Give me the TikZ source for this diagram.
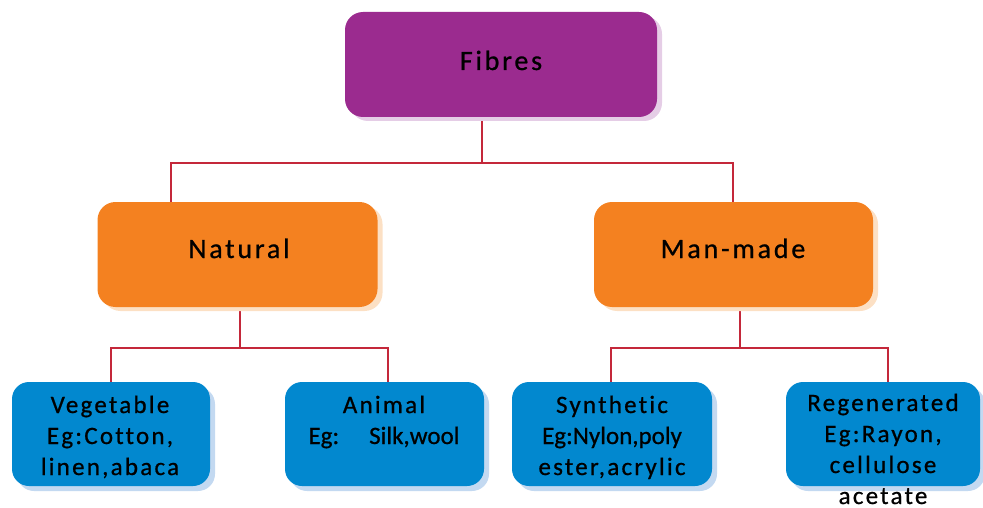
\documentclass[tikz,border=0pt]{standalone}
\usepackage{fontspec}
\setmainfont{Carlito}[Ligatures={NoCommon},FakeBold=0.7]
\newfontfamily\spctop{Carlito}[LetterSpace=10,Ligatures={NoCommon},FakeBold=0.8]
\newfontfamily\spcbot{Carlito}[LetterSpace=9,Ligatures={NoCommon},FakeBold=0.7]
\newfontfamily\plainbot{Carlito}[Ligatures={NoCommon},FakeBold=0.7]
\usetikzlibrary{shadows,backgrounds}
\definecolor{purplebox}{HTML}{9B2B8F}
\definecolor{purpleshad}{HTML}{E5CDE6}
\definecolor{orangebox}{HTML}{F48120}
\definecolor{orangeshad}{HTML}{FCE0C4}
\definecolor{bluebox}{HTML}{0288CF}
\definecolor{blueshad}{HTML}{C3D9F1}
\definecolor{connred}{HTML}{C4283A}
\tikzset{
  boxbase/.style={rounded corners=18pt, draw=none, inner sep=0pt},
  topbox/.style={boxbase, fill=purplebox, minimum width=312pt, minimum height=105pt,
    general shadow={fill=purpleshad, shadow xshift=5pt, shadow yshift=-4pt}},
  midbox/.style={boxbase, fill=orangebox, minimum width=280pt, minimum height=105pt,
    general shadow={fill=orangeshad, shadow xshift=5pt, shadow yshift=-4pt}},
  lowbox/.style={boxbase, rounded corners=17pt, fill=bluebox, minimum width=198pt, minimum height=104pt,
    general shadow={fill=blueshad, shadow xshift=5pt, shadow yshift=-5pt}},
  toptext/.style={anchor=base, inner sep=0pt, font=\spctop\fontsize{28pt}{34pt}\selectfont},
  lowtext/.style={anchor=base, inner sep=0pt, align=center, font=\spcbot\fontsize{25pt}{31pt}\selectfont},
  conn/.style={draw=connred, line width=2.2pt},
}
\begin{document}
\begin{tikzpicture}[x=1pt,y=-1pt]
\useasboundingbox (0,0) rectangle (983,508);
% boxes
\node[topbox] (fibres) at (501,64.5) {};
\node[midbox] (natural) at (237.5,254.5) {};
\node[midbox, minimum width=279pt] (manmade) at (733.5,254.5) {};
\node[lowbox] (veg) at (111,434) {};
\node[lowbox, minimum width=199pt] (animal) at (384.5,434) {};
\node[lowbox, minimum width=200pt] (synth) at (612,434) {};
\node[lowbox, minimum width=194pt] (regen) at (883,434) {};
% texts (base anchor = baseline of the last line)
\node[toptext] (tfibres) at (501,70) {Fibres};
\node[toptext] (tnatural) at (239,258) {Natural};
\node[toptext] (tmanmade) at (733,258) {Man-made};
\node[lowtext] (tveg) at (110,475) {Vegetable\\Eg:Cotton,\\linen,abaca};
\node[lowtext] (tanimal) at (384,444) {Animal\\{\plainbot Eg:\hspace{30pt}Silk,wool}};
\node[lowtext] (tsynth) at (612,475) {Synthetic\\{\plainbot Eg:Nylon,poly}\\ester,acrylic};
\node[lowtext] (tregen) at (883,504) {Regenerated\\Eg:Rayon,\\cellulose\\acetate};
% connectors
\coordinate (a1) at (171,163);
\coordinate (a2) at (482,163);
\coordinate (a3) at (733,163);
\coordinate (b1) at (111,348);
\coordinate (b2) at (240,348);
\coordinate (b3) at (388,348);
\coordinate (c1) at (611,348);
\coordinate (c2) at (740,348);
\coordinate (c3) at (888,348);
\begin{scope}[on background layer]
\draw[conn] (fibres.south -| a2) -- (a2);
\draw[conn] (natural.north -| a1) -- (a1) -- (a3) -- (manmade.north -| a3);
\draw[conn] (natural.south -| b2) -- (b2);
\draw[conn] (veg.north -| b1) -- (b1) -- (b3) -- (animal.north -| b3);
\draw[conn] (manmade.south -| c2) -- (c2);
\draw[conn] (synth.north -| c1) -- (c1) -- (c3) -- (regen.north -| c3);
\end{scope}
\end{tikzpicture}
\end{document}
